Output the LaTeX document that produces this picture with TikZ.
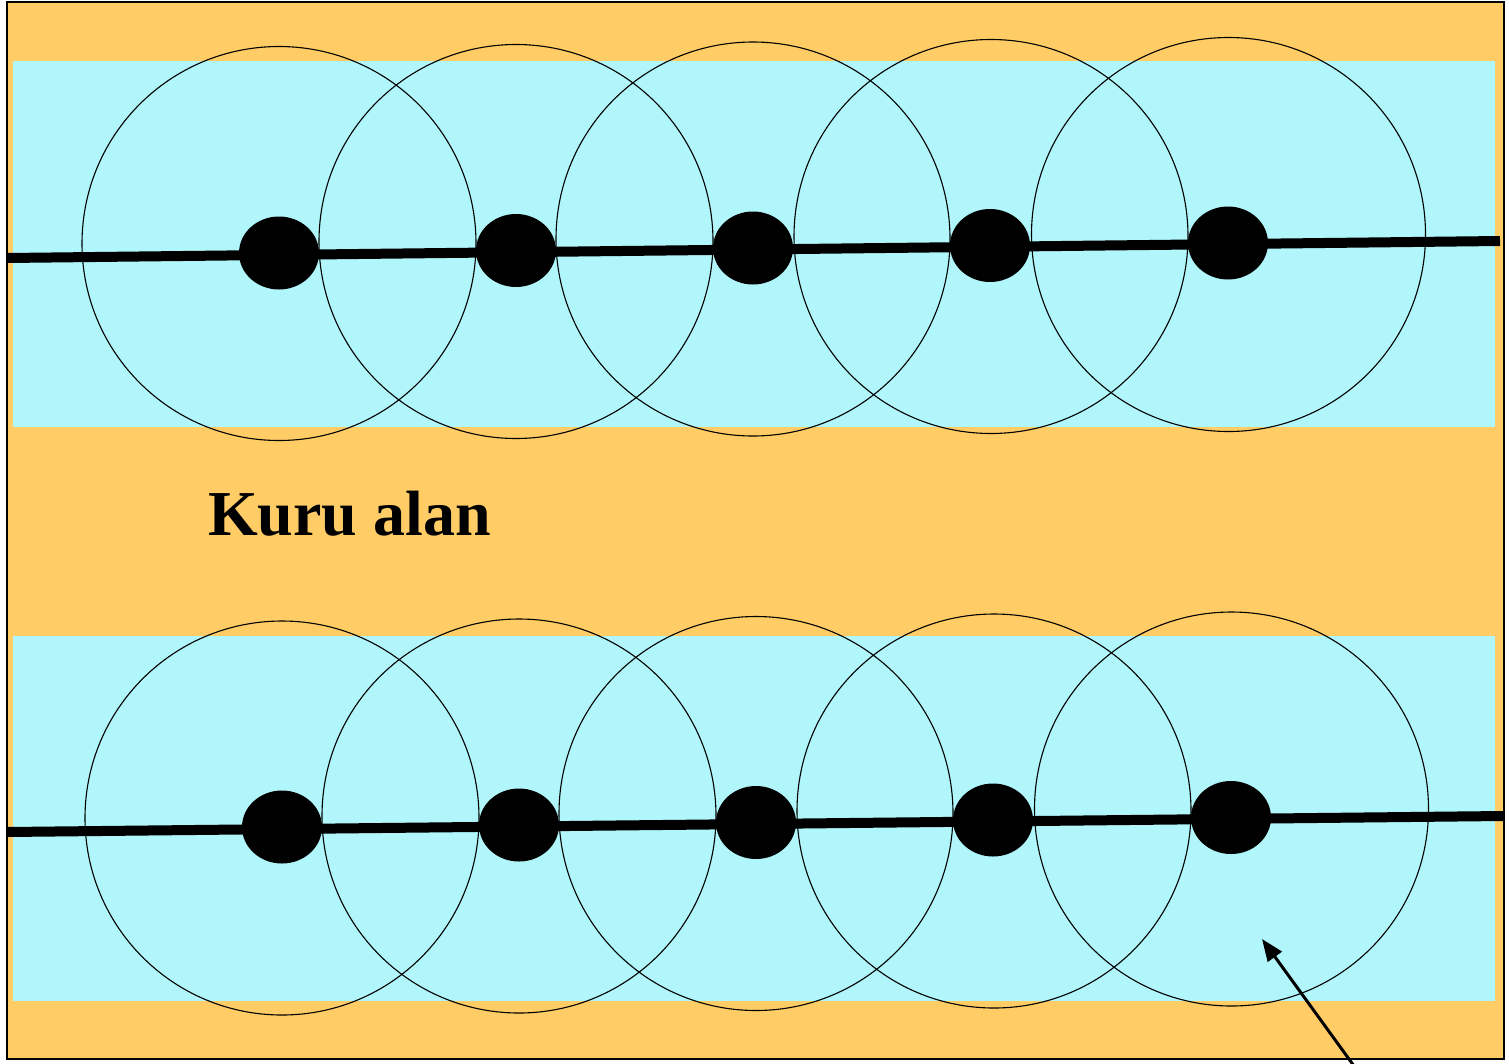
\documentclass[tikz,border=0pt]{standalone}
\usepackage{fontspec}
\setmainfont{Liberation Serif}
\usetikzlibrary{shapes.geometric,arrows.meta}
\definecolor{dryland}{RGB}{255,204,102}
\definecolor{wetband}{RGB}{176,246,250}
\tikzset{
  zone/.style={circle, draw=black, line width=1.1pt, minimum size=394pt, inner sep=0pt},
  well/.style={ellipse, fill=black, minimum width=80pt, minimum height=73pt, inner sep=0pt},
  pipe/.style={line width=10pt},
  pointer/.style={line width=3pt, -{Triangle[length=22pt,width=17pt]}}
}
\begin{document}
\begin{tikzpicture}[x=1pt,y=-1pt]
\useasboundingbox (0,0) rectangle (1509,1063);
% ground and irrigated strips
\fill[white] (0,0) rectangle (1509,1063);
\fill[dryland] (7,2) rectangle (1504,1059);
\fill[wetband] (13,61) rectangle (1495,427);
\fill[wetband] (13,636) rectangle (1495,1001);
% wetting circles, upper row
\node[zone] (ca1) at (279,243.5) {};
\node[zone] (ca2) at (516,241.5) {};
\node[zone] (ca3) at (753,239) {};
\node[zone] (ca4) at (991,236.5) {};
\node[zone] (ca5) at (1228.5,234.5) {};
% wetting circles, lower row
\node[zone] (cb1) at (282,818) {};
\node[zone] (cb2) at (519,816) {};
\node[zone] (cb3) at (756,813.5) {};
\node[zone] (cb4) at (994,811) {};
\node[zone] (cb5) at (1231.5,809) {};
% laterals
\coordinate (la) at (7,258);
\coordinate (lb) at (1500,241);
\coordinate (ma) at (7,832);
\coordinate (mb) at (1503,816);
\draw[pipe] (la) -- (lb);
\draw[pipe] (ma) -- (mb);
% emitters
\node[well] (da1) at (279,253) {};
\node[well] (da2) at (516,250.5) {};
\node[well] (da3) at (753,248) {};
\node[well] (da4) at (990,245.5) {};
\node[well] (da5) at (1228,243) {};
\node[well] (db1) at (282,827) {};
\node[well] (db2) at (519,825) {};
\node[well] (db3) at (756,822.5) {};
\node[well] (db4) at (993,820) {};
\node[well] (db5) at (1231,817.5) {};
% label
\node[anchor=base west, inner sep=0pt, font=\bfseries\fontsize{64}{72}\selectfont] (dry) at (208,535) {Kuru alan};
% pointer into the wetted zone
\coordinate (ptail) at (1354,1066);
\coordinate (ptip) at (1262,939);
\draw[pointer] (ptail) -- (ptip);
% frame
\draw[line width=2.6pt] (7,2) rectangle (1504,1059);
\end{tikzpicture}
\end{document}
